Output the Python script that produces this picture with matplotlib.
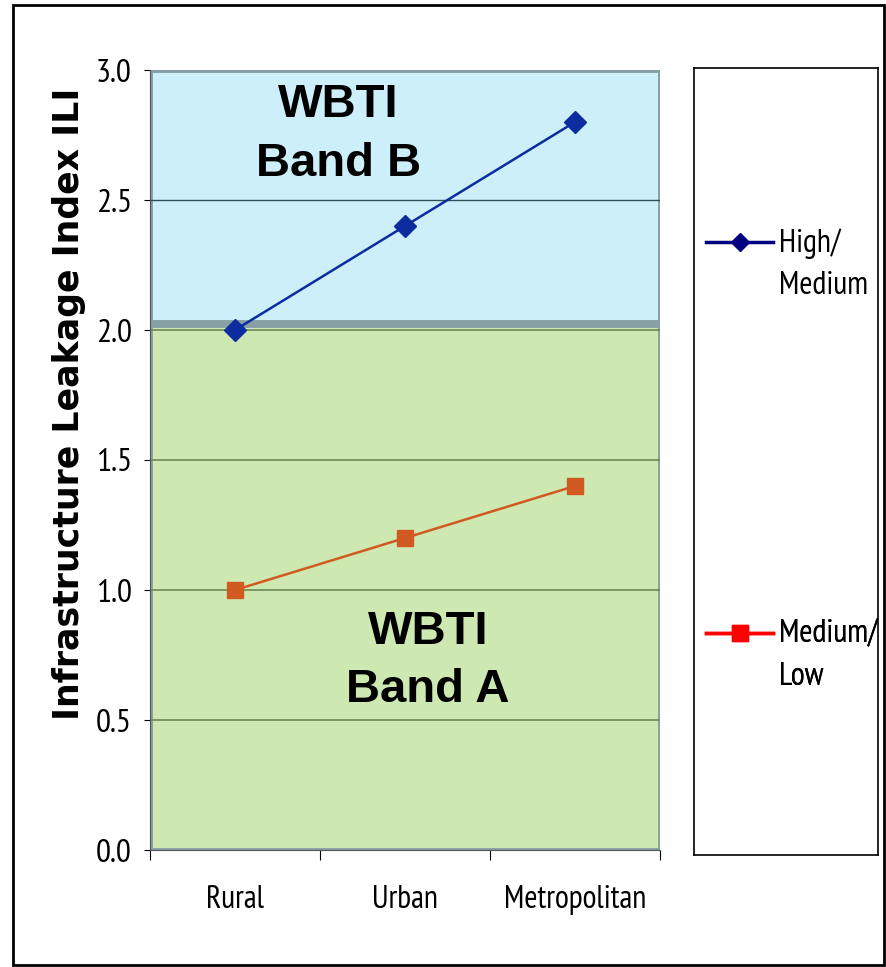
import matplotlib.pyplot as plt
from matplotlib.lines import Line2D
from matplotlib.patches import Rectangle

# data
categories = ["Rural", "Urban", "Metropolitan"]
high_medium = [2.0, 2.4, 2.8]
medium_low = [1.0, 1.2, 1.4]
band_a = (0.0, 2.02)
band_b = (2.03, 3.0)
y_ticks = [0.0, 0.5, 1.0, 1.5, 2.0, 2.5, 3.0]

NARROW = ["PT Sans Narrow", "Liberation Sans", "DejaVu Sans"]
BOLD = ["Liberation Sans", "DejaVu Sans"]

fig = plt.figure(figsize=(8.87, 9.67), dpi=100)
fig.patches.append(Rectangle((13 / 887, 0.002), 871 / 887, 1 - 5 / 967 - 0.002,
                             transform=fig.transFigure, fill=False,
                             edgecolor="black", lw=2))

ax = fig.add_axes([150 / 887, 1 - 850 / 967, 510 / 887, 780 / 967])
n = len(categories)
xs = [i + 0.5 for i in range(n)]
ax.set_xlim(0, n)
ax.set_ylim(0, 3.0)

# background bands
ax.add_patch(Rectangle((0, band_a[0]), n, band_a[1] - band_a[0],
                       facecolor="#cde8b0", edgecolor="#86a0a4", lw=3.5, zorder=0))
ax.add_patch(Rectangle((0, band_b[0]), n, band_b[1] - band_b[0],
                       facecolor="#cdeffa", edgecolor="#86a0a4", lw=3.5, zorder=0))
for y in y_ticks:
    if 0 < y < band_a[1]:
        ax.axhline(y, color="#6b8a55", lw=1.2, zorder=1)
    elif band_b[0] < y < band_b[1]:
        ax.axhline(y, color="#2f4f55", lw=1.0, zorder=1)

ax.plot(xs, high_medium, color="#0c2ca0", lw=1.8, marker="D", ms=11, zorder=3)
ax.plot(xs, medium_low, color="#d05a22", lw=1.8, marker="s", ms=11, zorder=3)

for txt, xf, y in [("WBTI", 0.369, 2.865), ("Band B", 0.369, 2.64),
                   ("WBTI", 0.545, 0.838), ("Band A", 0.545, 0.615)]:
    ax.text(n * xf, y, txt, ha="center", va="center", fontsize=34,
            fontweight="bold", family=BOLD)

for s in ["top", "right"]:
    ax.spines[s].set_visible(False)
ax.spines["left"].set_color("#555555")
ax.spines["bottom"].set_color("#555555")
ax.set_yticks(y_ticks)
ax.set_yticklabels([f"{v:.1f}" for v in y_ticks], family=NARROW, fontsize=24)
ax.set_xticks(range(n + 1))
ax.set_xticklabels([])
ax.set_xticks(xs, minor=True)
ax.set_xticklabels(categories, minor=True, family=NARROW, fontsize=23)
ax.tick_params(axis="x", which="minor", length=0, pad=25)
ax.tick_params(axis="x", which="major", length=7, direction="out")
ax.tick_params(axis="y", length=4, pad=9)
ax.set_ylabel("Infrastructure Leakage Index ILI", fontsize=25,
              fontweight="bold", family=["DejaVu Sans"], va="center")
ax.yaxis.set_label_coords(-0.158, 0.572)

# legend box
lax = fig.add_axes([694 / 887, 1 - 855 / 967, 184 / 887, 787 / 967])
lax.set_xticks([])
lax.set_yticks([])
for s in lax.spines.values():
    s.set_color("black")
    s.set_linewidth(1.2)
h1 = Line2D([], [], color="#000080", lw=2.5, marker="D", ms=9)
h2 = Line2D([], [], color="#ff0000", lw=2.5, marker="s", ms=11)
for h, lab, yf in [(h1, "High/\nMedium", 0.75), (h2, "Medium/\nLow", 0.253)]:
    leg = lax.legend([h], [lab], loc="center left", bbox_to_anchor=(0.065, yf),
                     frameon=False, handlelength=2.1, handletextpad=0.2,
                     borderpad=0, borderaxespad=0,
                     prop={"family": NARROW, "size": 23})
    for t in leg.get_texts():
        t.set_linespacing(1.55)
    # put the line level with the first text line, as in the original
    lh = leg.legend_handles[0]
    lh.set_ydata([v + 16.5 for v in lh.get_ydata()])
    lax.add_artist(leg)

fig.savefig("out.png", dpi=100)
